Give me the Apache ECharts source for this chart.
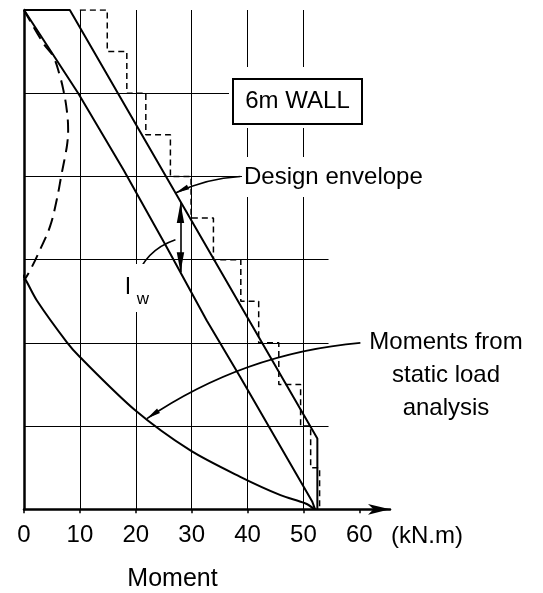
<!DOCTYPE html>
<html>
<head>
<meta charset="utf-8">
<script src="https://cdn.jsdelivr.net/npm/echarts@6/dist/echarts.min.js"></script>
<style>
  html, body { margin: 0; padding: 0; background: #fff; }
  #chart { width: 543px; height: 593px; }
</style>
</head>
<body>
<div id="chart"></div>
<script>
// Bending moment (kN.m) plotted against depth (m) down a 6 m wall.

// Axis ticks and grid
const momentTicks = [0, 10, 20, 30, 40, 50, 60];
const gridMoments = [10, 20, 30, 40, 50];
const gridDepths = [1, 2, 3, 4, 5];
const gridEndMoment = 54.5;

// Design envelope (solid, outer)
const envelopeMoment = [0, 8.2, 52.5, 52.5];
const envelopeDepth = [0, 0, 5.15, 6];

// Envelope shifted up by l_w (solid, inner)
const shiftedMoment = [0, 9.7, 17.8, 25.3, 32.7, 38.7, 51.6, 52.1];
const shiftedDepth = [0, 1.0, 1.92, 2.82, 3.73, 4.41, 5.91, 6.0];

// Stepped design moments, one value per depth band (dashed)
const stepStartMoment = 10;
const stepBandTop = [0, 0.5, 1.0, 1.5, 2.0, 2.5, 3.0, 3.5, 4.0, 4.5, 5.0, 5.5];
const stepBandBottom = [0.5, 1.0, 1.5, 2.0, 2.5, 3.0, 3.5, 4.0, 4.5, 5.0, 5.5, 6.0];
const stepMoment = [14.9, 18.4, 21.8, 26.2, 29.9, 33.9, 38.8, 42.0, 45.6, 49.5, 51.3, 52.9];

// Upper moment curve (long dashes)
const upperMoment = [0, 3.46, 5.25, 6.45, 7.04, 7.65, 7.9, 7.75, 7.35, 6.76, 5.86, 4.66, 2.87, 1.08, 0];
const upperDepth = [0, 0.40, 0.56, 0.80, 0.96, 1.20, 1.44, 1.60, 1.76, 1.96, 2.28, 2.60, 2.88, 3.13, 3.25];

// Moments from static load analysis (solid curve)
const staticMoment = [-2.0, 0, 2.3, 7.65, 10.0, 19.9, 29.7, 38.7, 45.9, 50.4, 52.0];
const staticDepth = [3.05, 3.21, 3.49, 3.99, 4.17, 4.81, 5.29, 5.61, 5.83, 5.93, 6.0];

// Annotation leaders: [moment, depth] end points
const envelopeLeader = [[38.7, 2.0], [27.1, 2.2]];
const staticLeader = [[60.2, 4.0], [22.0, 4.91]];
const lwLeader = [[27.1, 2.76], [19.9, 3.25]];
const lwDimension = [[28, 2.32], [28, 3.15]];

const FONT = '"Liberation Sans", "DejaVu Sans", sans-serif';
const zip = (xs, ys) => xs.map((x, i) => [x, ys[i]]);

// stepped outline built from the band values
const stepPoints = [[stepStartMoment, 0]];
stepMoment.forEach((m, i) => {
  stepPoints.push([m, stepBandTop[i]]);
  stepPoints.push([m, stepBandBottom[i]]);
});

// narrow filled arrowhead whose tip sits at the symbol centre
const tipArrow = 'path://M-14,-14 M14,14 M0,0 L2.6,14 L-2.6,14 Z';

const black = '#000';
const lineBase = (data, extra) => Object.assign({
  type: 'line',
  data: data,
  symbol: 'none',
  showSymbol: false,
  silent: true,
  lineStyle: { color: black, width: 2 }
}, extra || {});

const chart = echarts.init(document.getElementById('chart'), null, { renderer: 'canvas' });

chart.setOption({
  animation: false,
  backgroundColor: '#fff',
  grid: { left: 24, top: 10, width: 366, height: 499.3, containLabel: false },
  xAxis: {
    type: 'value', min: 0, max: 65.5, interval: 10,
    axisLine: {
      show: true, onZero: false,
      symbol: ['none', 'arrow'], symbolSize: [8, 22],
      lineStyle: { color: black, width: 2.5 }
    },
    axisTick: { show: true, length: 4, customValues: momentTicks, lineStyle: { color: black, width: 1.5 } },
    axisLabel: { customValues: momentTicks, color: black, fontSize: 24, fontFamily: FONT, margin: 14 },
    splitLine: { show: false }
  },
  yAxis: {
    type: 'value', min: 0, max: 6, inverse: true,
    axisLine: { show: true, onZero: false, lineStyle: { color: black, width: 2.5 } },
    axisTick: { show: false },
    axisLabel: { show: false },
    splitLine: { show: false }
  },
  series: [
    lineBase(zip(envelopeMoment, envelopeDepth), {
      name: 'Design envelope',
      markLine: {
        silent: true,
        symbol: 'none',
        label: { show: false },
        lineStyle: { color: black, width: 1, type: 'solid' },
        data: gridMoments.map(v => ({ xAxis: v })).concat(
          gridDepths.map(d => [{ coord: [0, d] }, { coord: [gridEndMoment, d] }])
        )
      }
    }),
    lineBase(zip(shiftedMoment, shiftedDepth), { name: 'Shifted envelope' }),
    lineBase(stepPoints, { name: 'Stepped moments', lineStyle: { color: black, width: 1.5, type: [6, 4] } }),
    lineBase(zip(upperMoment, upperDepth), { name: 'Upper moments', smooth: 0.4, lineStyle: { color: black, width: 2, type: [13, 7] } }),
    lineBase(zip(staticMoment, staticDepth), { name: 'Static load moments', smooth: 0.3, clip: false }),
    {
      type: 'lines', coordinateSystem: 'cartesian2d', silent: true,
      symbol: ['none', tipArrow], symbolSize: [1, 28],
      lineStyle: { color: black, width: 1.6, opacity: 1 },
      itemStyle: { color: black },
      data: [
        { coords: envelopeLeader, lineStyle: { curveness: -0.1 } },
        { coords: staticLeader, lineStyle: { curveness: -0.13 } }
      ]
    },
    {
      type: 'lines', coordinateSystem: 'cartesian2d', silent: true,
      symbol: ['none', 'none'],
      lineStyle: { color: black, width: 1.6, opacity: 1, curveness: -0.25 },
      data: [{ coords: lwLeader }]
    },
    {
      type: 'lines', coordinateSystem: 'cartesian2d', silent: true,
      symbol: [tipArrow, tipArrow], symbolSize: [40, 40],
      lineStyle: { color: black, width: 1.6, opacity: 1 },
      itemStyle: { color: black },
      data: [{ coords: lwDimension }]
    }
  ],
  graphic: [
    { type: 'rect', z: 50, silent: true, shape: { x: 229, y: 67, width: 137, height: 61 }, style: { fill: '#fff' } },
    { type: 'rect', z: 51, silent: true, shape: { x: 233, y: 79, width: 129, height: 45 }, style: { fill: '#fff', stroke: black, lineWidth: 2 } },
    { type: 'text', z: 52, silent: true, x: 297.5, y: 101.5,
      style: { text: '6m WALL', font: '24px ' + FONT, fill: black, align: 'center', verticalAlign: 'middle' } },
    { type: 'text', z: 52, silent: true, x: 242, y: 177,
      style: { text: 'Design envelope', font: '24px ' + FONT, fill: black, align: 'left', verticalAlign: 'middle',
               backgroundColor: '#fff', padding: [8, 2, 8, 2] } },
    { type: 'text', z: 52, silent: true, x: 446, y: 375,
      style: { text: 'Moments from\nstatic load\nanalysis', font: '24px ' + FONT, fill: black,
               align: 'center', verticalAlign: 'middle', lineHeight: 33 } },
    { type: 'rect', z: 50, silent: true, shape: { x: 124, y: 264, width: 28, height: 48 }, style: { fill: '#fff' } },
    { type: 'text', z: 52, silent: true, x: 128, y: 287,
      style: { text: 'l', font: '24px ' + FONT, fill: black, align: 'center', verticalAlign: 'middle' } },
    { type: 'text', z: 52, silent: true, x: 143, y: 299,
      style: { text: 'w', font: '17px ' + FONT, fill: black, align: 'center', verticalAlign: 'middle' } },
    { type: 'text', z: 52, silent: true, x: 391, y: 536,
      style: { text: '(kN.m)', font: '24px ' + FONT, fill: black, align: 'left', verticalAlign: 'middle' } },
    { type: 'text', z: 52, silent: true, x: 172.5, y: 579,
      style: { text: 'Moment', font: '25px ' + FONT, fill: black, align: 'center', verticalAlign: 'middle' } }
  ]
});
</script>
</body>
</html>
